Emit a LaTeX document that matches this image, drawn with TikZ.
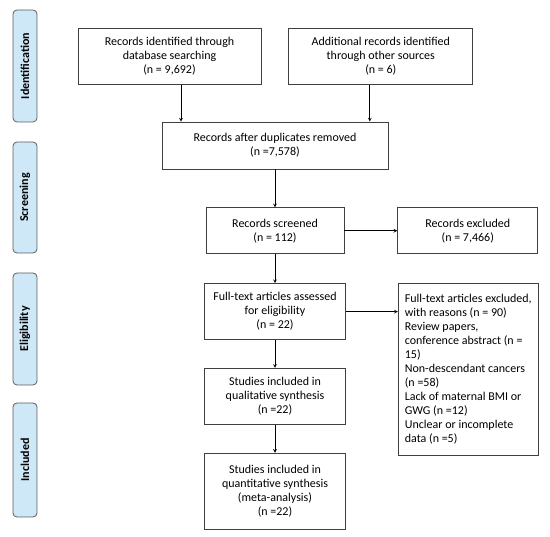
\documentclass[tikz,border=0pt]{standalone}
\usepackage{fontspec}
\setmainfont{Carlito}
\usepackage{xcolor}
\usepackage{tikz}
\usetikzlibrary{arrows, positioning}

\definecolor{stagefill}{HTML}{CFE8F8}
\definecolor{boxline}{HTML}{404040}

\begin{document}
\begin{tikzpicture}[
    x=1pt, y=1pt,
    box/.style={rectangle, draw=boxline, line width=0.8pt, fill=white, align=center, font=\fontsize{12}{14}\selectfont, inner sep=4pt},
    stage/.style={rectangle, draw=boxline!85, fill=stagefill, rounded corners=4pt, line width=0.8pt, minimum width=24pt, font=\fontsize{12}{14}\selectfont\bfseries, rotate=90, inner sep=0pt},
    arrow/.style={line width=0.7pt, ->, >=stealth, black}
]
    \useasboundingbox (0,0) rectangle (550,-537);

    % Stages on the left
    \node (st_id) [stage, minimum width=112pt, minimum height=24pt] at (25,-66) {Identification};
    \node (st_scr) [stage, minimum width=111pt, minimum height=24pt] at (25,-197.5) {Screening};
    \node (st_el) [stage, minimum width=112pt, minimum height=24pt] at (25,-329) {Eligibility};
    \node (st_in) [stage, minimum width=114pt, minimum height=24pt] at (25,-460) {Included};

    % Identification
    \node (id_db) [box, minimum width=183pt, minimum height=56pt] at (169.5,-56.5) {Records identified through\\database searching\\(n = 9,692)};
    \node (id_oth) [box, minimum width=184pt, minimum height=56pt, right=27pt of id_db] {Additional records identified\\through other sources\\(n = 6)};

    % Screening
    \node (dup) [box, minimum width=226pt, minimum height=47pt] at (275,-145.5) {Records after duplicates removed\\(n =7,578)};
    \node (scr) [box, minimum width=138pt, minimum height=46pt, below=38pt of dup] {Records screened\\(n = 112)};
    \node (scr_ex) [box, minimum width=140pt, minimum height=46pt, right=53pt of scr] {Records excluded\\(n = 7,466)};

    % Eligibility
    \node (full) [box, minimum width=141pt, minimum height=56pt, below=29pt of scr] {Full-text articles assessed\\for eligibility\\(n = 22)};
    \node (full_ex) [box, minimum width=140pt, minimum height=172pt, align=left, right=52pt of full.north east, anchor=north west] {Full-text articles excluded,\\with reasons (n = 90)\\Review papers,\\conference abstract (n =\\15)\\Non-descendant cancers\\(n =58)\\Lack of maternal BMI or\\GWG (n =12)\\Unclear or incomplete\\data (n =5)};

    % Included
    \node (qual) [box, minimum width=141pt, minimum height=56pt, below=28pt of full] {Studies included in\\qualitative synthesis\\(n =22)};
    \node (quant) [box, minimum width=141pt, minimum height=76pt, below=28pt of qual] {Studies included in\\quantitative synthesis\\(meta-analysis)\\(n =22)};

    % Arrows
    \draw [arrow] ([xshift=11.5pt]id_db.south) -- ([xshift=11.5pt]id_db.south |- dup.north);
    \draw [arrow] ([xshift=-11pt]id_oth.south) -- ([xshift=-11pt]id_oth.south |- dup.north);
    \draw [arrow] (dup.south) -- (scr.north);
    \draw [arrow] (scr.east) -- (scr_ex.west);
    \draw [arrow] (scr.south) -- (full.north);
    \draw [arrow] (full.east) -- (full.east -| full_ex.west);
    \draw [arrow] (full.south) -- (qual.north);
    \draw [arrow] (qual.south) -- (quant.north);

\end{tikzpicture}
\end{document}
